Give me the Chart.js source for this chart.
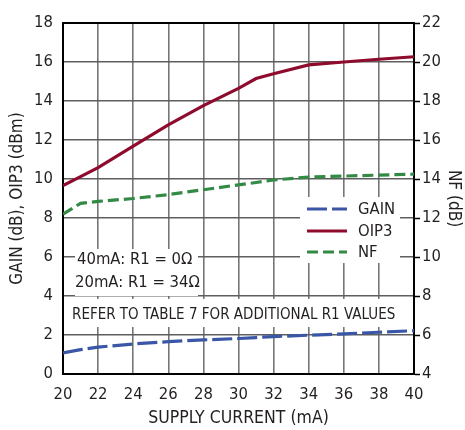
<!DOCTYPE html>
<html>
<head>
<meta charset="utf-8">
<script src="https://cdn.jsdelivr.net/npm/chart.js@4"></script>
<style>
  html, body { margin: 0; padding: 0; background: #fff; }
  #wrap { width: 465px; height: 430px; }
</style>
</head>
<body>
<div id="wrap"><canvas id="c" width="465" height="430"></canvas></div>
<script>
// ---- data ----
const supplyCurrent = [20, 21, 22, 24, 26, 28, 30, 31, 32, 34, 36, 38, 40];
const gainDB  = [1.08, 1.25, 1.38, 1.54, 1.66, 1.75, 1.82, 1.87, 1.92, 1.99, 2.06, 2.14, 2.22];
const oip3DBm = [9.66, 10.12, 10.58, 11.68, 12.78, 13.76, 14.65, 15.15, 15.4, 15.85, 16.0, 16.14, 16.27];
const nfDB    = [12.2, 12.75, 12.85, 13.0, 13.2, 13.45, 13.7, 13.82, 13.95, 14.1, 14.15, 14.2, 14.25];
const xTicks  = [20, 22, 24, 26, 28, 30, 32, 34, 36, 38, 40];
const leftTicks  = [0, 2, 4, 6, 8, 10, 12, 14, 16, 18];
const rightTicks = [4, 6, 8, 10, 12, 14, 16, 18, 20, 22];
const noteLines = ['40mA: R1 = 0\u03A9', '20mA: R1 = 34\u03A9'];
const referNote = 'REFER TO TABLE 7 FOR ADDITIONAL R1 VALUES';

const FONT = '"DejaVu Sans Condensed", "DejaVu Sans", sans-serif';
const TXT = '#231f20';
const BLUE = '#3a57a7', RED = '#8f0b2d', GREEN = '#338a45';

const pts = (ys) => supplyCurrent.map((x, i) => ({x, y: ys[i]}));

const overlay = {
  id: 'overlay',
  beforeDatasetsDraw(chart) {
    const {ctx, chartArea: a} = chart;
    ctx.save();
    ctx.fillStyle = '#fff';
    // note box
    ctx.fillRect(75, 249, 123, 47);
    // refer band
    ctx.fillRect(a.left + 1.5, 299, a.right - a.left - 3, 28);
    // legend box
    ctx.fillRect(300, 197, 100, 66);
    // top border
    ctx.strokeStyle = '#000';
    ctx.lineWidth = 2;
    ctx.beginPath();
    ctx.moveTo(a.left - 1, a.top);
    ctx.lineTo(a.right + 1, a.top);
    ctx.stroke();
    // texts
    ctx.fillStyle = TXT;
    ctx.textBaseline = 'middle';
    ctx.textAlign = 'left';
    ctx.font = '16.5px ' + FONT;
    ctx.fillText(noteLines[0], 77, 260);
    ctx.fillText(noteLines[1], 75, 283);
    ctx.font = '15px ' + FONT;
    ctx.fillText(referNote, 72, 315);
    // legend
    ctx.font = '16.5px ' + FONT;
    const ys = [209, 231, 252];
    chart.data.datasets.forEach((ds, i) => {
      ctx.save();
      ctx.strokeStyle = ds.borderColor;
      ctx.lineWidth = ds.borderWidth;
      ctx.setLineDash(ds.borderDash || []);
      ctx.beginPath();
      ctx.moveTo(307, ys[i]);
      ctx.lineTo(347, ys[i]);
      ctx.stroke();
      ctx.restore();
      ctx.fillText(ds.label, 358, ys[i] + 1);
    });
    ctx.restore();
  }
};

new Chart(document.getElementById('c'), {
  type: 'line',
  data: {
    datasets: [
      { label: 'GAIN', data: pts(gainDB), yAxisID: 'y', borderColor: BLUE, borderWidth: 3.2, borderDash: [20, 5] },
      { label: 'OIP3', data: pts(oip3DBm), yAxisID: 'y', borderColor: RED, borderWidth: 3.2 },
      { label: 'NF', data: pts(nfDB), yAxisID: 'y2', borderColor: GREEN, borderWidth: 3.2, borderDash: [11, 5] }
    ]
  },
  options: {
    responsive: false,
    animation: false,
    devicePixelRatio: 1,
    layout: { padding: { top: 23, left: 0, right: 0, bottom: 0 } },
    elements: { point: { radius: 0 }, line: { tension: 0, borderCapStyle: 'butt' } },
    plugins: { legend: { display: false }, tooltip: { enabled: false } },
    scales: {
      x: {
        type: 'linear', min: 20, max: 40,
        afterBuildTicks: (s) => { s.ticks = xTicks.map(v => ({value: v})); },
        afterFit: (s) => { s.height = 56; },
        grid: { color: '#767676', lineWidth: 1.6, drawTicks: false },
        border: { color: '#000', width: 2 },
        ticks: { color: TXT, font: { family: FONT, size: 16.5 }, padding: 11, maxRotation: 0 },
        title: { display: true, text: 'SUPPLY CURRENT (mA)', color: TXT, font: { family: FONT, size: 17.5 }, padding: { top: 0, bottom: 1 } }
      },
      y: {
        position: 'left', min: 0, max: 18,
        afterBuildTicks: (s) => { s.ticks = leftTicks.map(v => ({value: v})); },
        afterFit: (s) => { s.width = 63; },
        grid: { color: '#5e5e5e', lineWidth: 1.6, drawTicks: false },
        border: { color: '#000', width: 2 },
        ticks: { color: TXT, font: { family: FONT, size: 16.5 }, padding: 10 },
        title: { display: true, text: 'GAIN (dB), OIP3 (dBm)', color: TXT, font: { family: FONT, size: 17 }, padding: { top: 7, bottom: 0 } }
      },
      y2: {
        position: 'right', min: 4, max: 22,
        afterBuildTicks: (s) => { s.ticks = rightTicks.map(v => ({value: v})); },
        afterFit: (s) => { s.width = 51; },
        grid: { drawOnChartArea: false, drawTicks: true, tickLength: 6, tickColor: '#000', tickWidth: 1.5 },
        border: { color: '#000', width: 2 },
        ticks: { color: TXT, font: { family: FONT, size: 16.5 }, padding: 2 },
        title: { display: true, text: 'NF (dB)', color: TXT, font: { family: FONT, size: 17 }, padding: { top: 1, bottom: 0 } }
      }
    }
  },
  plugins: [overlay]
});
</script>
</body>
</html>
